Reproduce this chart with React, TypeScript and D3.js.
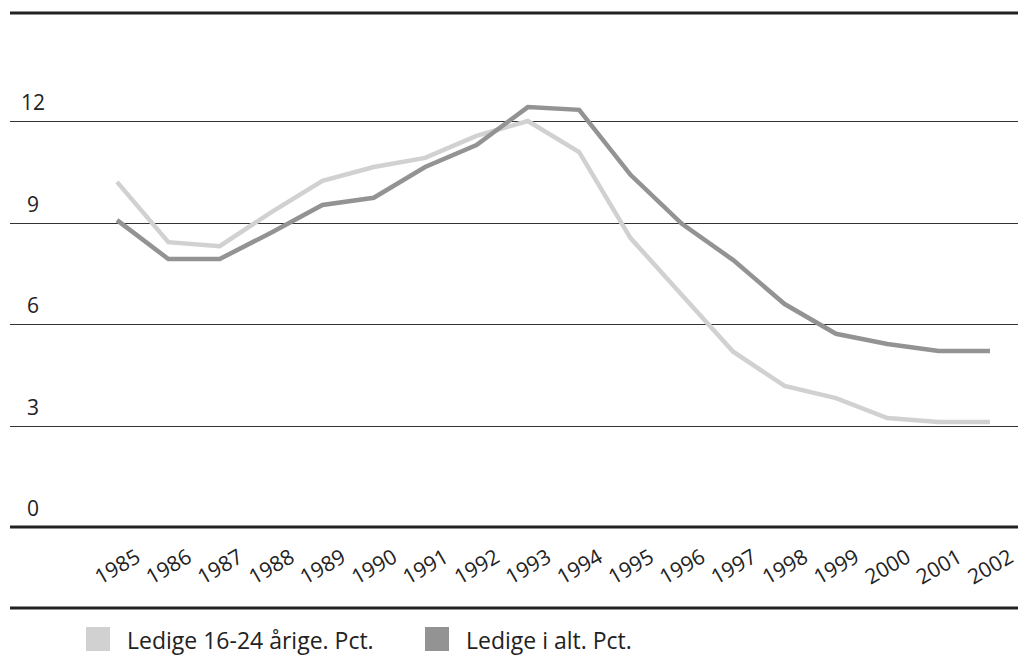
import React, { useEffect, useRef } from "react";
import * as d3 from "d3";

const years = [1985, 1986, 1987, 1988, 1989, 1990, 1991, 1992, 1993, 1994, 1995, 1996, 1997, 1998, 1999, 2000, 2001, 2002];
const youth = [10.2, 8.42, 8.3, 9.3, 10.23, 10.64, 10.91, 11.56, 12.0, 11.08, 8.54, 6.86, 5.18, 4.17, 3.81, 3.22, 3.1, 3.1];
const total = [9.07, 7.92, 7.92, 8.7, 9.52, 9.73, 10.64, 11.29, 12.41, 12.33, 10.41, 8.96, 7.89, 6.59, 5.71, 5.41, 5.2, 5.2];
const yTicks = [0, 3, 6, 9, 12];
const seriesNames = ["Ledige 16-24 årige. Pct.", "Ledige i alt. Pct."];

const W = 1018;
const H = 663;
const FONT = "'Open Sans', 'DejaVu Sans', sans-serif";
const LIGHT = "#d1d1d1";
const DARK = "#939393";

export default function App() {
  const ref = useRef<SVGSVGElement | null>(null);

  useEffect(() => {
    const svg = d3.select(ref.current);
    svg.selectAll("*").remove();

    const x = d3.scaleLinear().domain([1985, 2002]).range([117, 990]);
    const y = d3.scaleLinear().domain([0, 12]).range([527, 121]);

    // top rule
    svg.append("line").attr("x1", 10).attr("x2", W).attr("y1", 13).attr("y2", 13)
      .attr("stroke", "#222").attr("stroke-width", 3);

    // gridlines
    yTicks.filter((t) => t > 0).forEach((t) => {
      svg.append("line").attr("x1", 10).attr("x2", W)
        .attr("y1", Math.round(y(t)) + 0.5).attr("y2", Math.round(y(t)) + 0.5)
        .attr("stroke", "#333").attr("stroke-width", 1.2);
    });
    // zero line
    svg.append("line").attr("x1", 10).attr("x2", W).attr("y1", y(0)).attr("y2", y(0))
      .attr("stroke", "#222").attr("stroke-width", 3);

    // y labels
    yTicks.forEach((t) => {
      svg.append("text").attr("x", 33).attr("y", y(t) - 11)
        .attr("text-anchor", "middle").attr("font-family", FONT).attr("font-size", 21)
        .attr("fill", "#222").text(String(t));
    });

    // x labels
    years.forEach((yr) => {
      svg.append("text")
        .attr("transform", `translate(${x(yr)},${566}) rotate(-30)`)
        .attr("text-anchor", "middle").attr("dominant-baseline", "central")
        .attr("font-family", FONT).attr("font-size", 21).attr("fill", "#222")
        .text(String(yr));
    });

    // bottom rule
    svg.append("line").attr("x1", 10).attr("x2", W).attr("y1", 608).attr("y2", 608)
      .attr("stroke", "#222").attr("stroke-width", 3);

    const line = d3.line<number>().x((_, i) => x(years[i])).y((d) => y(d));

    svg.append("path").datum(youth).attr("d", line).attr("fill", "none")
      .attr("stroke", LIGHT).attr("stroke-width", 4.5).attr("stroke-linejoin", "miter");
    svg.append("path").datum(total).attr("d", line).attr("fill", "none")
      .attr("stroke", DARK).attr("stroke-width", 4.5).attr("stroke-linejoin", "miter");

    // legend
    const legend = [
      { name: seriesNames[0], color: LIGHT, x: 86 },
      { name: seriesNames[1], color: DARK, x: 425 },
    ];
    legend.forEach((l) => {
      svg.append("rect").attr("x", l.x).attr("y", 627).attr("width", 24).attr("height", 24).attr("fill", l.color);
      svg.append("text").attr("x", l.x + 41).attr("y", 649).attr("font-family", FONT)
        .attr("font-size", 23).attr("fill", "#222").text(l.name);
    });
  }, []);

  return (
    <svg ref={ref} width={W} height={H} style={{ position: "absolute", left: 0, top: 0, background: "#fff" }} />
  );
}
